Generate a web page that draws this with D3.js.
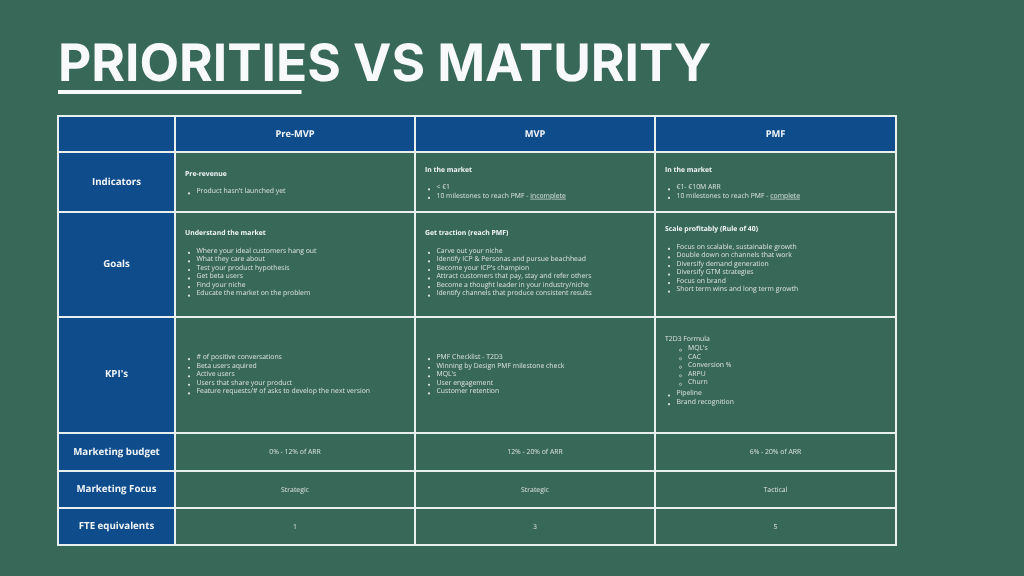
<!DOCTYPE html>
<html>
<head>
<meta charset="utf-8">
<script src="https://cdn.jsdelivr.net/npm/d3@7"></script>
<style>
  html, body { margin:0; padding:0; background:#386858; }
  svg { display:block; }
  text { font-family:"Open Sans", sans-serif; text-rendering:geometricPrecision; }
  .soft { filter:blur(0.3px); }
</style>
</head>
<body>
<svg id="chart" width="1024" height="576"></svg>
<script>
// --- content ---
const titleText = 'PRIORITIES VS MATURITY';
const stages = ['Pre-MVP', 'MVP', 'PMF'];
const rowLabels = ['Indicators', 'Goals', "KPI's", 'Marketing budget', 'Marketing Focus', 'FTE equivalents'];

// each list cell: [heading, bullets]; a bullet starting with '>' is nested
const indicators = [
  ['Pre-revenue', ["Product hasn't launched yet"]],
  ['In the market', ['< €1', '10 milestones to reach PMF - _incomplete']],
  ['In the market', ['€1- €10M ARR', '10 milestones to reach PMF - _complete']]
];
const goals = [
  ['Understand the market', ['Where your ideal customers hang out', 'What they care about', 'Test your product hypothesis', 'Get beta users', 'Find your niche', 'Educate the market on the problem']],
  ['Get traction (reach PMF)', ['Carve out your niche', 'Identify ICP & Personas and pursue beachhead', "Become your ICP's champion", 'Attract customers that pay, stay and refer others', 'Become a thought leader in your industry/niche', 'Identify channels that produce consistent results']],
  ['Scale profitably (Rule of 40)', ['Focus on scalable, sustainable growth', 'Double down on channels that work', 'Diversify demand generation', 'Diversify GTM strategies', 'Focus on brand', 'Short term wins and long term growth']]
];
const kpis = [
  [null, ['# of positive conversations', 'Beta users aquired', 'Active users', 'Users that share your product', 'Feature requests/# of asks to develop the next version']],
  [null, ['PMF Checklist - T2D3', 'Winning by Design PMF milestone check', "MQL's", 'User engagement', 'Customer retention']],
  ['T2D3 Formula', [">MQL's", '>CAC', '>Conversion %', '>ARPU', '>Churn', 'Pipeline', 'Brand recognition']]
];
const budget = ['0% - 12% of ARR', '12% - 20% of ARR', '6% - 20% of ARR'];
const focus = ['Strategic', 'Strategic', 'Tactical'];
const fte = ['1', '3', '5'];

// --- layout ---
const colEdges = [58, 175, 415, 655, 896];
const rowEdges = [116, 152, 212, 317, 433, 471, 508, 545];
const listFirstY = [
  [175.5, 171.5, 171.5],
  [235, 235, 231],
  [359, 359, 341]
];
const labelNudge = [3.2, 2.6, 2.2, 3.2, 2.4, 2.6];
const lineH = 8.55;
const BODY = 6.85;

const GREEN = '#386858', BLUE = '#0f4c8c', LINE = '#e9eeee', TXT = '#dbe3e0', HEAD = '#f2f5f7';

const svg = d3.select('#chart');
svg.append('rect').attr('width', 1024).attr('height', 576).attr('fill', GREEN);

// title + underline
svg.append('text')
  .attr('x', 58).attr('y', 81)
  .style('font-family', 'Inter, sans-serif')
  .attr('font-weight', 700).attr('font-size', 51.4)
  .attr('fill', '#f8f9fb')
  .text(titleText);
svg.append('rect').attr('x', 58).attr('y', 90).attr('width', 243.5).attr('height', 4).attr('fill', '#f8f9fb');

// --- header / row label fills ---
const g = svg.append('g').attr('class', 'soft');
g.append('rect').attr('x', colEdges[0]).attr('y', rowEdges[0])
  .attr('width', colEdges[4]-colEdges[0]).attr('height', rowEdges[1]-rowEdges[0]).attr('fill', BLUE);
g.append('rect').attr('x', colEdges[0]).attr('y', rowEdges[0])
  .attr('width', colEdges[1]-colEdges[0]).attr('height', rowEdges[7]-rowEdges[0]).attr('fill', BLUE);

// grid lines
g.selectAll('line.v').data(colEdges).join('line').attr('class','v')
  .attr('x1', d=>d).attr('x2', d=>d).attr('y1', rowEdges[0]-1).attr('y2', rowEdges[7]+1)
  .attr('stroke', LINE).attr('stroke-width', 2);
g.selectAll('line.h').data(rowEdges).join('line').attr('class','h')
  .attr('x1', colEdges[0]-1).attr('x2', colEdges[4]+1).attr('y1', d=>d).attr('y2', d=>d)
  .attr('stroke', LINE).attr('stroke-width', 2);

// column headers
g.selectAll('text.stage').data(stages).join('text').attr('class','stage')
  .attr('x', (d,i)=>(colEdges[i+1]+colEdges[i+2])/2)
  .attr('y', (rowEdges[0]+rowEdges[1])/2 + 3.2)
  .attr('text-anchor','middle').attr('font-weight',700).attr('font-size',9.3)
  .attr('fill', HEAD).text(d=>d);

// row labels
g.selectAll('text.rowlabel').data(rowLabels).join('text').attr('class','rowlabel')
  .attr('x', (colEdges[0]+colEdges[1])/2)
  .attr('y', (d,i)=>(rowEdges[i+1]+rowEdges[i+2])/2 + labelNudge[i])
  .attr('text-anchor','middle').attr('font-weight',700).attr('font-size',9.7)
  .attr('fill', HEAD).text(d=>d);

// list cells
function drawList(cell, col, row){
  const [heading, bullets] = cell;
  const x0 = colEdges[col+1] + 10;
  let y = listFirstY[row][col];
  if (heading){
    const plain = heading === 'T2D3 Formula';
    g.append('text').attr('x', x0).attr('y', y)
      .attr('font-size', BODY).attr('font-weight', plain ? 400 : 700)
      .attr('fill', plain ? TXT : HEAD).text(heading);
    y += plain ? lineH + 0.4 : 17.7;
  }
  bullets.forEach((b, i) => {
    const nested = b.startsWith('>');
    if (!nested && i > 0 && bullets[i-1].startsWith('>')) y += 2.7;
    const label = nested ? b.slice(1) : b;
    const tx = x0 + (nested ? 23 : 11.5);
    const bx = x0 + (nested ? 15.5 : 4);
    const dot = g.append('circle').attr('cx', bx).attr('cy', y + 0.2);
    if (nested) dot.attr('r', 1.1).attr('fill', 'none').attr('stroke', TXT).attr('stroke-width', 0.6);
    else dot.attr('r', 1.1).attr('fill', TXT);

    // '_' marks the underlined tail of a line
    const parts = label.split('_');
    const t = g.append('text').attr('x', tx).attr('y', y).attr('font-size', BODY).attr('fill', TXT);
    t.append('tspan').text(parts[0]);
    if (parts[1]) t.append('tspan').attr('text-decoration', 'underline').text(parts[1]);
    y += lineH;
  });
}
[indicators, goals, kpis].forEach((rows, r) => rows.forEach((cell, c) => drawList(cell, c, r)));

// centred cells
[budget, focus, fte].forEach((vals, r) => {
  g.selectAll('text.c'+r).data(vals).join('text').attr('class','c'+r)
    .attr('x', (d,i)=>(colEdges[i+1]+colEdges[i+2])/2)
    .attr('y', (rowEdges[r+4]+rowEdges[r+5])/2 + 2.3)
    .attr('text-anchor','middle').attr('font-size',BODY)
    .attr('fill', TXT).text(d=>d);
});
</script>
</body>
</html>
